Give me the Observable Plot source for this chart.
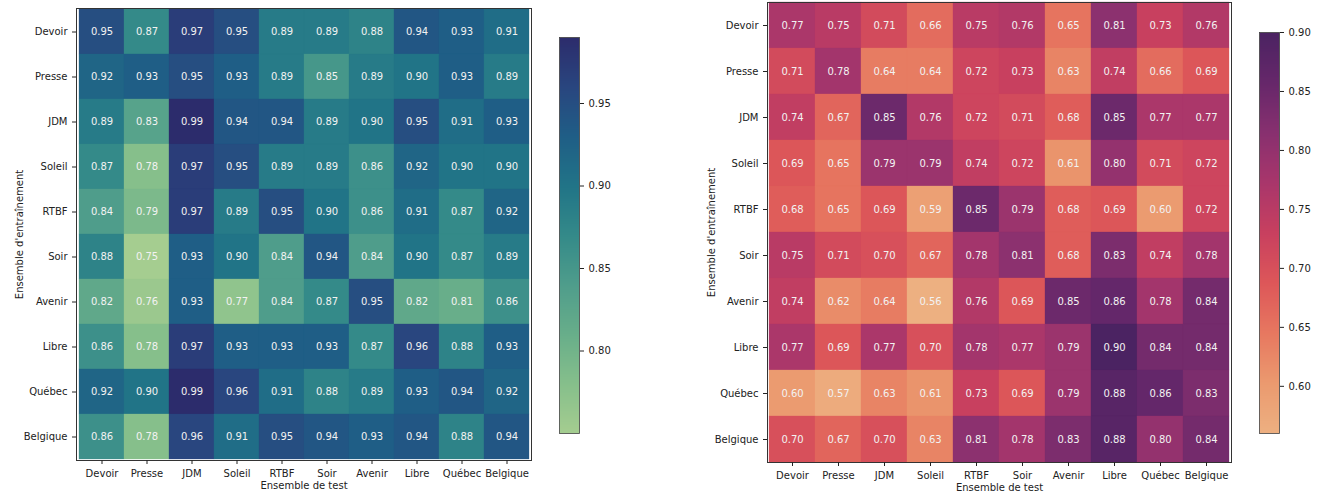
<!DOCTYPE html>
<html><head><meta charset="utf-8">
<script src="https://cdn.jsdelivr.net/npm/d3@7"></script>
<script src="https://cdn.jsdelivr.net/npm/@observablehq/plot@0.6"></script>
<style>
body{margin:0;background:#fff}
#c{position:relative;width:1324px;height:499px;overflow:hidden}
#c svg{position:absolute;top:0}
</style>
</head><body><div id="c"></div>
<script>
const names = ["Devoir","Presse","JDM","Soleil","RTBF","Soir","Avenir","Libre","Québec","Belgique"];
const trainLabel = "Ensemble d'entraînement";
const testLabel = "Ensemble de test";

const leftValues = [
  [0.95,0.87,0.97,0.95,0.89,0.89,0.88,0.94,0.93,0.91],
  [0.92,0.93,0.95,0.93,0.89,0.85,0.89,0.90,0.93,0.89],
  [0.89,0.83,0.99,0.94,0.94,0.89,0.90,0.95,0.91,0.93],
  [0.87,0.78,0.97,0.95,0.89,0.89,0.86,0.92,0.90,0.90],
  [0.84,0.79,0.97,0.89,0.95,0.90,0.86,0.91,0.87,0.92],
  [0.88,0.75,0.93,0.90,0.84,0.94,0.84,0.90,0.87,0.89],
  [0.82,0.76,0.93,0.77,0.84,0.87,0.95,0.82,0.81,0.86],
  [0.86,0.78,0.97,0.93,0.93,0.93,0.87,0.96,0.88,0.93],
  [0.92,0.90,0.99,0.96,0.91,0.88,0.89,0.93,0.94,0.92],
  [0.86,0.78,0.96,0.91,0.95,0.94,0.93,0.94,0.88,0.94]
];
const rightValues = [
  [0.77,0.75,0.71,0.66,0.75,0.76,0.65,0.81,0.73,0.76],
  [0.71,0.78,0.64,0.64,0.72,0.73,0.63,0.74,0.66,0.69],
  [0.74,0.67,0.85,0.76,0.72,0.71,0.68,0.85,0.77,0.77],
  [0.69,0.65,0.79,0.79,0.74,0.72,0.61,0.80,0.71,0.72],
  [0.68,0.65,0.69,0.59,0.85,0.79,0.68,0.69,0.60,0.72],
  [0.75,0.71,0.70,0.67,0.78,0.81,0.68,0.83,0.74,0.78],
  [0.74,0.62,0.64,0.56,0.76,0.69,0.85,0.86,0.78,0.84],
  [0.77,0.69,0.77,0.70,0.78,0.77,0.79,0.90,0.84,0.84],
  [0.60,0.57,0.63,0.61,0.73,0.69,0.79,0.88,0.86,0.83],
  [0.70,0.67,0.70,0.63,0.81,0.78,0.83,0.88,0.80,0.84]
];
const leftTicks = [0.80,0.85,0.90,0.95];
const rightTicks = [0.60,0.65,0.70,0.75,0.80,0.85,0.90];

const crestColors = ["#a5cd90","#86bf8b","#68ae8a","#4f9d8b","#348a89","#217487","#1f5e86","#29467f","#2c2c6c"];
const flareColors = ["#edb081","#eb9a6f","#e77860","#dd5759","#c8405f","#a9366b","#88306f","#66276a","#4b2362"];

const container = document.getElementById("c");
const baseStyle = {fontFamily:"DejaVu Sans", fontSize:"10px", color:"#222", background:"transparent", overflow:"visible"};

function tidy(m){
  return m.flatMap((row,i)=>row.map((v,j)=>({train:names[i], test:names[j], value:v})));
}

function heat(values, colors, ticks, o){
  const data = tidy(values);
  const ext = d3.extent(data, d=>d.value);
  const colorOpt = {type:"linear", domain:ext, interpolate:d3.piecewise(d3.interpolateRgb, colors)};
  const svg = Plot.plot({
    width:o.width, height:499,
    marginLeft:o.mLeft, marginRight:o.mRight, marginTop:o.mTop, marginBottom:o.mBottom,
    style:baseStyle,
    x:{domain:names, padding:0},
    y:{domain:names, padding:0},
    color:colorOpt,
    marks:[
      Plot.cell(data,{x:"test", y:"train", fill:"value", inset:0, stroke:"value", strokeWidth:0.3}),
      Plot.text(data,{x:"test", y:"train", text:d=>d.value.toFixed(2), fill:"#f2f2f2", fontSize:10}),
      Plot.frame({stroke:"#333", strokeWidth:1}),
      Plot.axisX({tickSize:4, label:testLabel, labelAnchor:"center", labelOffset:o.xLabelOffset, labelArrow:"none", fontSize:10}),
      Plot.axisY({tickSize:4, label:trainLabel, labelAnchor:"center", labelOffset:o.yLabelOffset, labelArrow:"none", fontSize:10})
    ]
  });
  svg.style.left = o.left + "px";
  container.appendChild(svg);

  const bar = Plot.plot({
    width:o.cbWidth, height:499,
    marginLeft:0, marginRight:o.cbWidth-20, marginTop:o.cbTop, marginBottom:499-o.cbBottom,
    style:baseStyle,
    x:{domain:[0,1], axis:null},
    y:{domain:ext},
    color:colorOpt,
    marks:[
      Plot.raster({x1:0, x2:1, y1:ext[0], y2:ext[1], fill:(x,y)=>y, pixelSize:1}),
      Plot.frame({stroke:"#444", strokeWidth:0.8}),
      Plot.axisY(ticks, {anchor:"right", tickSize:4, tickFormat:".2f", label:null, fontSize:10})
    ]
  });
  bar.style.left = o.cbLeft + "px";
  container.appendChild(bar);
}

heat(leftValues, crestColors, leftTicks, {
  left:0, width:533, mLeft:76, mRight:2, mTop:8, mBottom:39, xLabelOffset:28, yLabelOffset:61,
  cbLeft:559, cbWidth:70, cbTop:37, cbBottom:433
});
heat(rightValues, flareColors, rightTicks, {
  left:690, width:543, mLeft:77, mRight:2, mTop:2, mBottom:37, xLabelOffset:28, yLabelOffset:60,
  cbLeft:1259, cbWidth:65, cbTop:32, cbBottom:433
});
</script>
</body></html>
